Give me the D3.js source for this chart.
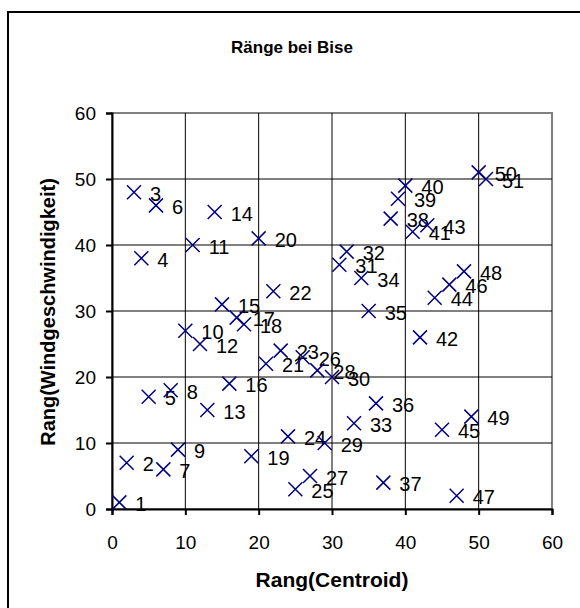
<!DOCTYPE html>
<html lang="de">
<head>
<meta charset="UTF-8">
<title>Ränge bei Bise</title>
<style>
    body { margin: 0; background: #fff; }
    svg { display: block; font-family: "Liberation Sans", Arial, sans-serif; }
    .tick line { stroke: #000; }
    .tick text { fill: #000; }
</style>
</head>
<body>
<svg width="580" height="608"></svg>
<script src="https://d3js.org/d3.v7.min.js"></script>
<script>
const ids = d3.range(1, 52);
const rangCentroid = d3.range(1, 52);
const rangWind = [1, 7, 48, 38, 17, 46, 6, 18, 9, 27,
                  40, 25, 15, 45, 31, 19, 29, 28, 8, 41,
                  22, 33, 24, 11, 3, 23, 5, 21, 10, 20,
                  37, 39, 13, 35, 30, 16, 4, 44, 47, 49,
                  42, 26, 43, 32, 12, 34, 2, 36, 14, 51, 50];
const xTicks = [0, 10, 20, 30, 40, 50, 60];
const yTicks = [0, 10, 20, 30, 40, 50, 60];

const svg = d3.select("svg");
const plot = { left: 112, right: 552, top: 113, bottom: 509 };

// Rahmen um das ganze Diagramm
svg.append("rect")
    .attr("x", 8).attr("y", 12)
    .attr("width", 620).attr("height", 640)
    .attr("fill", "none").attr("stroke", "#000").attr("stroke-width", 2);

svg.append("text")
    .attr("x", 292).attr("y", 53)
    .attr("text-anchor", "middle")
    .attr("font-size", 17).attr("font-weight", "bold")
    .text("Ränge bei Bise");

const x = d3.scaleLinear().domain([0, 60]).range([plot.left, plot.right]);
const y = d3.scaleLinear().domain([0, 60]).range([plot.bottom, plot.top]);

// Plotfläche
svg.append("rect")
    .attr("x", plot.left).attr("y", plot.top)
    .attr("width", plot.right - plot.left).attr("height", plot.bottom - plot.top)
    .attr("fill", "none").attr("stroke", "#808080").attr("stroke-width", 2);

// Gitter
svg.append("g").selectAll("line").data(xTicks.slice(1, -1)).join("line")
    .attr("x1", d => x(d)).attr("x2", d => x(d))
    .attr("y1", plot.top).attr("y2", plot.bottom)
    .attr("stroke", "#000");
svg.append("g").selectAll("line").data(yTicks.slice(1, -1)).join("line")
    .attr("y1", d => y(d)).attr("y2", d => y(d))
    .attr("x1", plot.left).attr("x2", plot.right)
    .attr("stroke", "#000");

// Achsen
const gx = svg.append("g")
    .attr("transform", `translate(0,${plot.bottom})`)
    .call(d3.axisBottom(x).tickValues(xTicks).tickSize(6).tickPadding(21));
const gy = svg.append("g")
    .attr("transform", `translate(${plot.left},0)`)
    .call(d3.axisLeft(y).tickValues(yTicks).tickSize(6).tickPadding(10));
[gx, gy].forEach(g => {
    g.select(".domain").attr("stroke", "#000").attr("stroke-width", 2);
    g.selectAll(".tick line").attr("stroke-width", 2);
    g.selectAll(".tick text").attr("font-family", null).attr("font-size", 19);
});

svg.append("text")
    .attr("x", 332).attr("y", 587)
    .attr("text-anchor", "middle")
    .attr("font-size", 21).attr("font-weight", "bold")
    .text("Rang(Centroid)");
svg.append("text")
    .attr("transform", "translate(55,312) rotate(-90)")
    .attr("text-anchor", "middle")
    .attr("font-size", 20).attr("font-weight", "bold")
    .text("Rang(Windgeschwindigkeit)");

// Punkte
const pts = ids.map((id, i) => ({ id, cx: rangCentroid[i], cy: rangWind[i] }));
const s = 7;
const g = svg.append("g").selectAll("g").data(pts).join("g")
    .attr("transform", d => `translate(${x(d.cx)},${y(d.cy)})`);
g.append("path")
    .attr("d", `M${-s},${-s}L${s},${s}M${-s},${s}L${s},${-s}`)
    .attr("stroke", "#000080").attr("stroke-width", 1.5).attr("fill", "none");
g.append("text")
    .attr("x", 16).attr("y", 8.5)
    .attr("font-size", 20)
    .text(d => d.id);
</script>
</body>
</html>
